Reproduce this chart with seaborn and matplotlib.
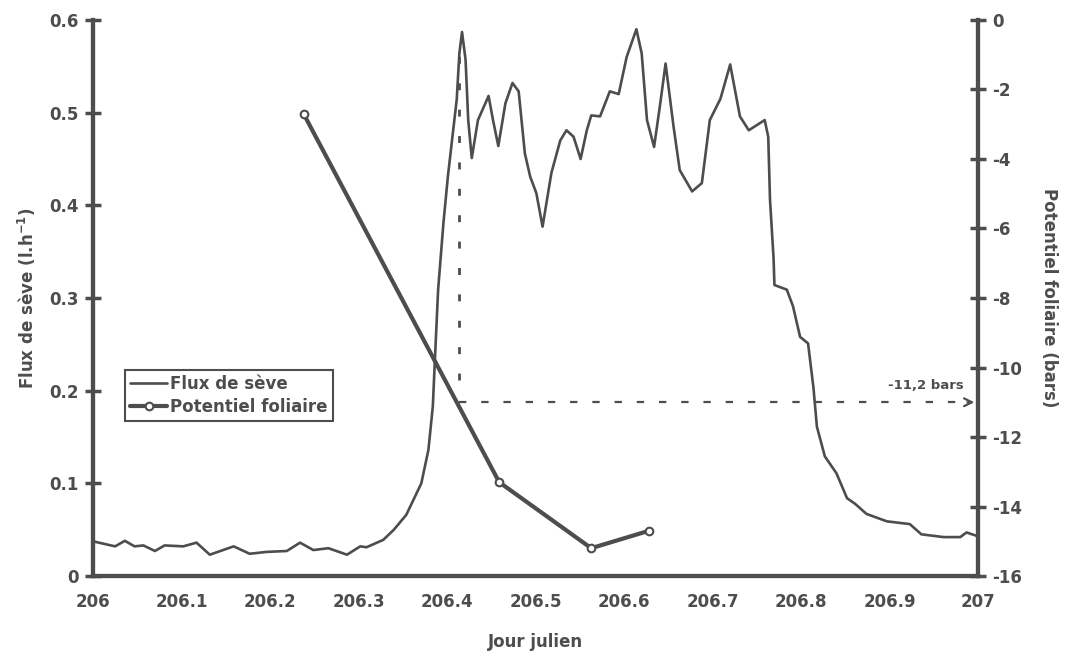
import matplotlib
matplotlib.use("Agg")
import matplotlib.pyplot as plt
import seaborn as sns
import pandas as pd

# Flux de sève (l/h)
flux_day = [206.002, 206.025, 206.036, 206.047, 206.057, 206.070, 206.081, 206.102,
            206.117, 206.132, 206.159, 206.177, 206.196, 206.219, 206.234, 206.249,
            206.266, 206.287, 206.302, 206.309, 206.328, 206.340, 206.354, 206.371,
            206.379, 206.384, 206.386, 206.390, 206.396, 206.401, 206.407, 206.411,
            206.414, 206.417, 206.421, 206.424, 206.428, 206.435, 206.447, 206.452,
            206.458, 206.466, 206.474, 206.481, 206.488, 206.494, 206.501, 206.508,
            206.518, 206.528, 206.535, 206.543, 206.551, 206.558, 206.563, 206.573,
            206.584, 206.594, 206.603, 206.614, 206.620, 206.626, 206.634, 206.641,
            206.647, 206.656, 206.663, 206.677, 206.688, 206.697, 206.709, 206.720,
            206.731, 206.741, 206.759, 206.763, 206.765, 206.769, 206.770, 206.784,
            206.791, 206.799, 206.808, 206.814, 206.818, 206.827, 206.840, 206.852,
            206.861, 206.874, 206.897, 206.923, 206.936, 206.961, 206.980, 206.987,
            206.998]
flux_val = [0.037, 0.032, 0.038, 0.032, 0.033, 0.027, 0.033, 0.032,
            0.036, 0.023, 0.032, 0.024, 0.026, 0.027, 0.036, 0.028,
            0.030, 0.023, 0.032, 0.031, 0.039, 0.050, 0.066, 0.100,
            0.136, 0.183, 0.226, 0.309, 0.381, 0.431, 0.481, 0.514,
            0.564, 0.587, 0.557, 0.492, 0.451, 0.492, 0.518, 0.492,
            0.464, 0.510, 0.532, 0.523, 0.456, 0.431, 0.413, 0.377,
            0.435, 0.470, 0.481, 0.474, 0.450, 0.481, 0.497, 0.496,
            0.523, 0.520, 0.560, 0.590, 0.564, 0.492, 0.463, 0.510,
            0.553, 0.485, 0.438, 0.415, 0.424, 0.492, 0.515, 0.552,
            0.496, 0.481, 0.492, 0.474, 0.406, 0.343, 0.314, 0.309,
            0.291, 0.258, 0.251, 0.204, 0.161, 0.129, 0.111, 0.084,
            0.078, 0.067, 0.059, 0.056, 0.045, 0.042, 0.042, 0.047,
            0.0435]

# Potentiel foliaire (bars)
pot_day = [206.238, 206.459, 206.563, 206.628]
pot_val = [-2.7, -13.3, -15.2, -14.7]

x_ticks = [206, 206.1, 206.2, 206.3, 206.4, 206.5, 206.6, 206.7, 206.8, 206.9, 207]
x_labels = ["206", "206.1", "206.2", "206.3", "206.4", "206.5", "206.6", "206.7",
            "206.8", "206.9", "207"]
left_ticks = [0, 0.1, 0.2, 0.3, 0.4, 0.5, 0.6]
left_labels = ["0", "0.1", "0.2", "0.3", "0.4", "0.5", "0.6"]
right_ticks = [0, -2, -4, -6, -8, -10, -12, -14, -16]

sns.set_style("white")
plt.rcParams["font.family"] = ["DejaVu Sans"]
plt.rcParams["font.weight"] = "bold"

ink = "#4d4d4d"
df_flux = pd.DataFrame({"day": flux_day, "flux": flux_val})
df_pot = pd.DataFrame({"day": pot_day, "pot": pot_val})

fig = plt.figure(figsize=(10.65, 6.53), dpi=100)
ax = fig.add_axes([0.0873, 0.1179, 0.8310, 0.8515])
ax2 = ax.twinx()

sns.lineplot(x="day", y="flux", data=df_flux, ax=ax, color=ink, linewidth=1.9,
             solid_joinstyle="round", label="Flux de sève", legend=False)
sns.lineplot(x="day", y="pot", data=df_pot, ax=ax2, color=ink, linewidth=3,
             marker="o", markersize=5.5, markerfacecolor="white", markeredgecolor=ink,
             markeredgewidth=1.5, label="Potentiel foliaire", legend=False)

ax.set_xlim(206, 207)
ax.set_ylim(0, 0.6)
ax2.set_ylim(-16, 0)

# dotted guide lines to -11,2 bars
ax.plot([206.4136, 206.4136], [0.212, 0.564], color=ink, linewidth=2,
        linestyle=(0, (2.5, 7)))
ax2.plot([206.4136, 206.985], [-11.0, -11.0], color=ink, linewidth=1.6,
         linestyle=(0, (3.3, 6.7)))
ax2.annotate("", xy=(206.999, -11.0), xytext=(206.985, -11.0),
             arrowprops=dict(arrowstyle="->", lw=1.6, color=ink,
                             mutation_scale=14))
ax2.text(206.984, -10.7, "-11,2 bars", fontsize=9.5, color=ink, fontweight="bold",
         ha="right", va="bottom")

ax.set_xticks(x_ticks)
ax.set_xticklabels(x_labels)
ax.set_yticks(left_ticks)
ax.set_yticklabels(left_labels)
ax2.set_yticks(right_ticks)
ax2.set_yticklabels([str(t) for t in right_ticks])

for a in (ax, ax2):
    for side in ("left", "right", "bottom"):
        a.spines[side].set_linewidth(3)
        a.spines[side].set_color(ink)
    a.spines["top"].set_visible(False)
    a.tick_params(direction="inout", length=12, width=2.5, color=ink,
                  labelcolor=ink, labelsize=12)
    for lab in a.get_xticklabels() + a.get_yticklabels():
        lab.set_fontweight("bold")
ax.tick_params(axis="x", pad=6)
ax.tick_params(axis="y", pad=4)
ax2.tick_params(axis="y", pad=4)

ax.set_xlabel("Jour julien", fontsize=12, fontweight="bold", color=ink, labelpad=16)
ax.set_ylabel("Flux de sève (l.h$^{\\mathbf{-1}}$)", fontsize=12, fontweight="bold",
              color=ink, labelpad=8)
ax2.set_ylabel("Potentiel foliaire (bars)", fontsize=12, fontweight="bold",
               color=ink, rotation=270, labelpad=26)

h1, l1 = ax.get_legend_handles_labels()
h2, l2 = ax2.get_legend_handles_labels()
leg = ax2.legend(h1 + h2, l1 + l2, loc="upper left", bbox_to_anchor=(0.027, 0.386),
                 frameon=True, fancybox=False, framealpha=1, edgecolor=ink,
                 borderpad=0.3, handlelength=2.2, handletextpad=0.2,
                 labelspacing=0.3, prop={"weight": "bold", "size": 12})
leg.get_frame().set_linewidth(1.5)
for t in leg.get_texts():
    t.set_color(ink)

fig.savefig("out.png", dpi=100)
